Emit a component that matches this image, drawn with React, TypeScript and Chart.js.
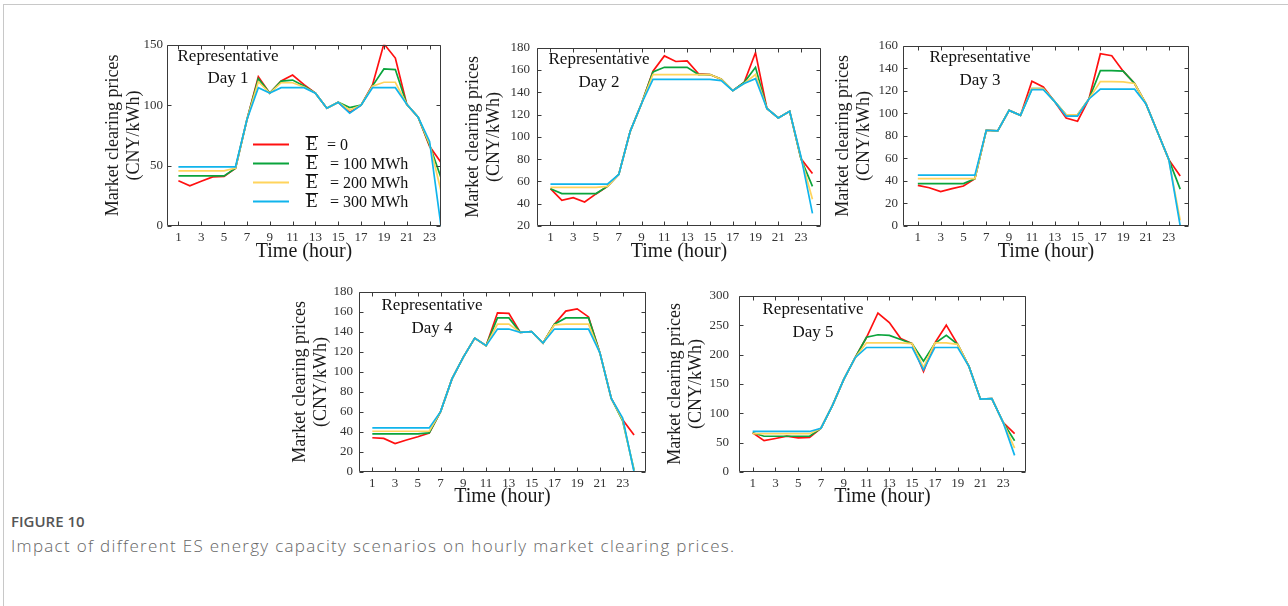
import React, { useEffect, useRef } from "react";
import { Chart, registerables } from "chart.js";

Chart.register(...registerables);

// ---------- data ----------
const HOURS = [1, 2, 3, 4, 5, 6, 7, 8, 9, 10, 11, 12, 13, 14, 15, 16, 17, 18, 19, 20, 21, 22, 23, 24];
const X_TICKS = [1, 3, 5, 7, 9, 11, 13, 15, 17, 19, 21, 23];
const SERIES_LABELS = ["0", "100 MWh", "200 MWh", "300 MWh"];

const D1_E0 = [37.4, 33.3, 37, 40.7, 41, 47.8, 88, 123.5, 110, 120, 125, 117, 110, 97.5, 102.4, 94, 100, 116.7, 150.8, 139, 100.8, 90, 66, 52.5];
const D1_E100 = [41.5, 41.5, 41.5, 41.5, 41.5, 47.8, 88, 122, 110, 120, 120.8, 116, 110, 97.5, 102.4, 98, 100, 116, 130, 129.5, 100.8, 90, 67, 40];
const D1_E200 = [45.6, 45.6, 45.6, 45.6, 45.6, 48, 88, 119.4, 110, 118.6, 118.6, 115, 110, 97.5, 102.4, 96, 100, 115.8, 119, 119, 100.8, 90, 68, 29];
const D1_E300 = [49, 49, 49, 49, 49, 49, 88, 114.5, 110, 114.5, 114.5, 114.5, 110, 97.5, 102.4, 93.4, 100, 114.5, 114.5, 114.5, 100.8, 90, 70, 0];

const D2_E0 = [53.5, 43, 45.4, 41.6, 48.8, 55.5, 66.3, 105, 130, 159, 172.7, 167.7, 168.3, 156.7, 156, 151.7, 141.5, 148.8, 175.6, 125.5, 117, 123, 80.3, 67.2];
const D2_E100 = [53.5, 49.1, 49.1, 49.1, 49.1, 55.5, 66.3, 105, 130, 158.4, 162.5, 162.5, 162.5, 156, 156, 151.7, 141.5, 148.8, 162.5, 125.5, 117, 123, 80, 55.6];
const D2_E200 = [54.7, 54.7, 54.7, 54.7, 54.7, 55.5, 66.3, 105, 130, 156, 156, 156, 156, 156, 156, 151.7, 141.5, 148, 156, 125.5, 117, 123, 81, 44];
const D2_E300 = [57.6, 57.6, 57.6, 57.6, 57.6, 57.6, 66.3, 105, 130, 151.7, 151.7, 151.7, 151.7, 151.7, 151.7, 150.5, 141.5, 148, 152.3, 125.5, 117, 123, 82, 31.4];

const D3_E0 = [36.1, 34, 30.6, 33.2, 35.5, 42, 85, 84.5, 102.6, 98.2, 128.5, 123.5, 110.4, 95.9, 93, 112.8, 153, 151.2, 137.5, 126.5, 108.4, 83.7, 58.9, 44.3];
const D3_E100 = [37.6, 37.6, 37.6, 37.6, 37.6, 42, 85, 84.5, 102.6, 98.2, 122, 122, 110.4, 98.8, 98.8, 112.8, 138, 138, 137.5, 126.5, 108.4, 83.7, 58.9, 32.7];
const D3_E200 = [42, 42, 42, 42, 42, 42, 85, 84.5, 102.6, 98.2, 122, 122, 110.4, 98.8, 98.8, 112.8, 128.2, 128.2, 128, 126.5, 108.4, 83.7, 58.9, 5];
const D3_E300 = [45.2, 45.2, 45.2, 45.2, 45.2, 45.2, 85, 84.5, 102.6, 98.2, 121, 121, 110.4, 97.6, 97.6, 112.8, 121.5, 121.5, 121.5, 121.5, 108.4, 83.7, 59, 0];

const D4_E0 = [34.2, 33.6, 28.4, 32, 35.2, 39, 60.3, 93, 114.8, 133.7, 126.2, 159, 158.4, 139.5, 140.2, 128.8, 147.7, 160.7, 163, 154.9, 119, 73.4, 52.2, 36.9];
const D4_E100 = [38.1, 38.1, 38.1, 38.1, 38.1, 39, 60.3, 93, 114.8, 133.7, 126.2, 153.9, 153.9, 139.5, 140.2, 128.8, 147.7, 153.9, 153.9, 153.9, 119, 73.4, 51, 2];
const D4_E200 = [40.7, 40.7, 40.7, 40.7, 40.7, 40.7, 60.3, 93, 114.8, 133.7, 126.2, 147.7, 147.7, 139.5, 140.2, 128.8, 147, 147.7, 147.7, 147.7, 119, 73.4, 52, 1];
const D4_E300 = [44, 44, 44, 44, 44, 44, 60.3, 93, 114.8, 133.7, 126.2, 142.8, 142.8, 139.5, 140.2, 128.8, 142.8, 142.8, 142.8, 142.8, 119, 73.4, 53.8, 0];

const D5_E0 = [66.8, 53.3, 57, 60.9, 58.2, 58.7, 74.5, 113, 157.6, 194.6, 229.4, 270.7, 254.4, 227.2, 218.5, 171.2, 220, 250, 217.4, 179.4, 124, 125, 84.2, 65.2];
const D5_E100 = [66.8, 60.9, 60.9, 60.9, 60.9, 60.9, 74.5, 113, 157.6, 194.6, 229.4, 233.7, 232.6, 225.5, 218.5, 188.6, 219, 232.6, 217.4, 179.4, 124, 125, 84, 53.3];
const D5_E200 = [65.2, 65.2, 65.2, 65.2, 65.2, 65.2, 74.5, 113, 157.6, 194.6, 220, 220, 220, 220, 218.5, 178.3, 220, 220, 217.4, 179.4, 124, 125, 84, 40.8];
const D5_E300 = [69, 69, 69, 69, 69, 69, 74.5, 113, 157.6, 194.6, 212, 212, 212, 212, 212, 174, 212, 212, 212, 179.4, 124, 125, 84, 28.3];

const DAY_LABELS = ["Day 1", "Day 2", "Day 3", "Day 4", "Day 5"];
const Y_TITLE = ["Market clearing prices", "(CNY/kWh)"];
const X_TITLE = "Time (hour)";
const ANNOT_TOP = "Representative";

// ---------- styles / layout ----------
const COLORS = ["#ff1010", "#0aa43c", "#ffd45c", "#10b4ec"];
const SERIF = '"Liberation Serif", "Times New Roman", serif';
const AXIS_COLOR = "#3a3a3a";

const PANELS = [
  { series: [D1_E0, D1_E100, D1_E200, D1_E300], day: DAY_LABELS[0], area: [167, 43, 441, 226], x: [0, 24], y: [0, 150, 50], ytPad: 15.2, ytickPad: 4, xtPad: 2, ann: [61, 12, 34], legend: true },
  { series: [D2_E0, D2_E100, D2_E200, D2_E300], day: DAY_LABELS[1], area: [537, 43, 821, 226], x: [-0.18, 24.75], y: [20, 180, 20], ytPad: 5.2, ytickPad: 7, xtPad: 2, ann: [62, 12, 35], legend: false },
  { series: [D3_E0, D3_E100, D3_E200, D3_E300], day: DAY_LABELS[2], area: [903, 43, 1189, 226], x: [-0.3, 24.77], y: [0, 160, 20], ytPad: 9.2, ytickPad: 5, xtPad: 2, ann: [77, 12, 35], legend: false },
  { series: [D4_E0, D4_E100, D4_E200, D4_E300], day: DAY_LABELS[3], area: [359, 288, 646, 472], x: [-0.17, 25.05], y: [0, 180, 20], ytPad: 10.2, ytickPad: 6, xtPad: 3, ann: [73, 14, 37], legend: false },
  { series: [D5_E0, D5_E100, D5_E200, D5_E300], day: DAY_LABELS[4], area: [739, 288, 1026, 472], x: [-0.2, 25.0], y: [0, 300, 50], ytPad: 5.2, ytickPad: 10, xtPad: 3, ann: [74, 14, 37], legend: false },
];

const Y_AXIS_W = 80;
const X_AXIS_H = 40;
const PAD_TOP = 10;
const PAD_RIGHT = 6;

const decoPlugin = {
  id: "deco",
  afterDatasetsDraw(chart: any, _args: any, opts: any) {
    const { ctx, chartArea: a } = chart;
    const xs = chart.scales.x;
    const ys = chart.scales.y;
    const L = Math.round(a.left) + 0.5;
    const R = Math.round(a.right) - 0.5;
    const T = Math.round(a.top) + 0.5;
    const B = Math.round(a.bottom) - 0.5;
    ctx.save();
    ctx.strokeStyle = AXIS_COLOR;
    ctx.lineWidth = 1;
    ctx.beginPath();
    ctx.rect(L, T, R - L, B - T);
    const tl = 4;
    xs.ticks.forEach((t: any) => {
      const px = Math.round(xs.getPixelForValue(t.value)) + 0.5;
      ctx.moveTo(px, B);
      ctx.lineTo(px, B - tl);
      ctx.moveTo(px, T);
      ctx.lineTo(px, T + tl);
    });
    ys.ticks.forEach((t: any) => {
      const py = Math.round(ys.getPixelForValue(t.value)) + 0.5;
      ctx.moveTo(L, py);
      ctx.lineTo(L + tl, py);
      ctx.moveTo(R, py);
      ctx.lineTo(R - tl, py);
    });
    ctx.stroke();

    // annotation
    ctx.fillStyle = "#111";
    ctx.font = `17px ${SERIF}`;
    ctx.textAlign = "center";
    ctx.textBaseline = "middle";
    ctx.fillText(ANNOT_TOP, a.left + opts.ann[0], a.top + opts.ann[1]);
    ctx.fillText(opts.day, a.left + opts.ann[0], a.top + opts.ann[2]);

    // legend
    if (opts.legend) {
      chart.data.datasets.forEach((ds: any, i: number) => {
        const y = a.top + 99.7 + i * 19;
        ctx.strokeStyle = ds.borderColor;
        ctx.lineWidth = 2;
        ctx.beginPath();
        ctx.moveTo(a.left + 86, y);
        ctx.lineTo(a.left + 122, y);
        ctx.stroke();
        ctx.fillStyle = "#111";
        ctx.textAlign = "left";
        ctx.textBaseline = "middle";
        ctx.font = `19px ${SERIF}`;
        const ex = a.left + 139;
        ctx.fillText("E", ex, y + 1);
        const w = ctx.measureText("E").width;
        ctx.strokeStyle = "#111";
        ctx.lineWidth = 1;
        ctx.beginPath();
        ctx.moveTo(ex - 0.5, Math.round(y - 9) + 0.5);
        ctx.lineTo(ex + w + 0.5, Math.round(y - 9) + 0.5);
        ctx.stroke();
        ctx.font = `16px ${SERIF}`;
        ctx.fillText("= " + SERIES_LABELS[i], a.left + (i === 0 ? 160 : 163), y + 1);
      });
    }
    ctx.restore();
  },
};

function Panel({ cfg }: { cfg: any }) {
  const ref = useRef<HTMLCanvasElement | null>(null);
  const [l, t, r, b] = cfg.area;
  const W = r - l + Y_AXIS_W + PAD_RIGHT;
  const H = b - t + PAD_TOP + X_AXIS_H;
  useEffect(() => {
    if (!ref.current) return;
    const datasets = cfg.series.map((vals: number[], i: number) => ({
      label: SERIES_LABELS[i],
      data: HOURS.map((h, k) => ({ x: h, y: vals[k] })),
      borderColor: COLORS[i],
      backgroundColor: COLORS[i],
      borderWidth: 1.7,
      pointRadius: 0,
      tension: 0,
      fill: false,
      order: 3 - i,
    }));
    const chart = new Chart(ref.current, {
      type: "line",
      data: { datasets },
      plugins: [decoPlugin],
      options: {
        animation: false,
        responsive: false,
        devicePixelRatio: 1,
        layout: { padding: { top: PAD_TOP, right: PAD_RIGHT, left: 0, bottom: 0 } },
        plugins: {
          legend: { display: false },
          tooltip: { enabled: false },
          deco: { ann: cfg.ann, day: cfg.day, legend: cfg.legend },
        } as any,
        scales: {
          x: {
            type: "linear",
            min: cfg.x[0],
            max: cfg.x[1],
            grid: { display: false, drawTicks: false },
            border: { display: false },
            afterBuildTicks: (s: any) => {
              s.ticks = X_TICKS.map((v) => ({ value: v }));
            },
            afterFit: (s: any) => {
              s.height = X_AXIS_H;
            },
            ticks: {
              autoSkip: false,
              maxRotation: 0,
              padding: 4,
              color: "#333",
              font: { family: SERIF, size: 13 },
              callback: (v: any) => String(v),
            },
            title: {
              display: true,
              text: X_TITLE,
              color: "#1a1a1a",
              font: { family: SERIF, size: 20 },
              padding: { top: 0, bottom: cfg.xtPad },
            },
          },
          y: {
            min: cfg.y[0],
            max: cfg.y[1],
            grid: { display: false, drawTicks: false },
            border: { display: false },
            afterFit: (s: any) => {
              s.width = Y_AXIS_W;
            },
            ticks: {
              stepSize: cfg.y[2],
              padding: cfg.ytickPad,
              color: "#333",
              font: { family: SERIF, size: 13 },
            },
            title: {
              display: true,
              text: Y_TITLE,
              color: "#1a1a1a",
              font: { family: SERIF, size: 18 },
              padding: { top: cfg.ytPad, bottom: 0 },
            },
          },
        },
      } as any,
    });
    return () => chart.destroy();
  }, []);
  return (
    <canvas
      ref={ref}
      width={W}
      height={H}
      style={{ position: "absolute", left: l - Y_AXIS_W, top: t - PAD_TOP, width: W, height: H }}
    />
  );
}

export default function App() {
  return (
    <div style={{ position: "absolute", left: 0, top: 0, width: 1288, height: 606, background: "#fff", overflow: "hidden" }}>
      <div
        style={{
          position: "absolute",
          left: 3,
          top: 4,
          width: 1290,
          height: 610,
          borderTop: "1px solid #c8c8c8",
          borderLeft: "1px solid #c8c8c8",
        }}
      />
      {PANELS.map((p, i) => (
        <Panel key={i} cfg={p} />
      ))}
      <div
        style={{
          position: "absolute",
          left: 11,
          top: 511,
          fontFamily: '"Open Sans", sans-serif',
          fontSize: 15,
          fontWeight: 600,
          color: "#555",
        }}
      >
        FIGURE 10
      </div>
      <div
        style={{
          position: "absolute",
          left: 11,
          top: 534,
          fontFamily: '"Open Sans", sans-serif',
          fontSize: 17,
          fontWeight: 300,
          letterSpacing: "1.3px",
          color: "#666",
          whiteSpace: "nowrap",
        }}
      >
        Impact of different ES energy capacity scenarios on hourly market clearing prices.
      </div>
    </div>
  );
}
